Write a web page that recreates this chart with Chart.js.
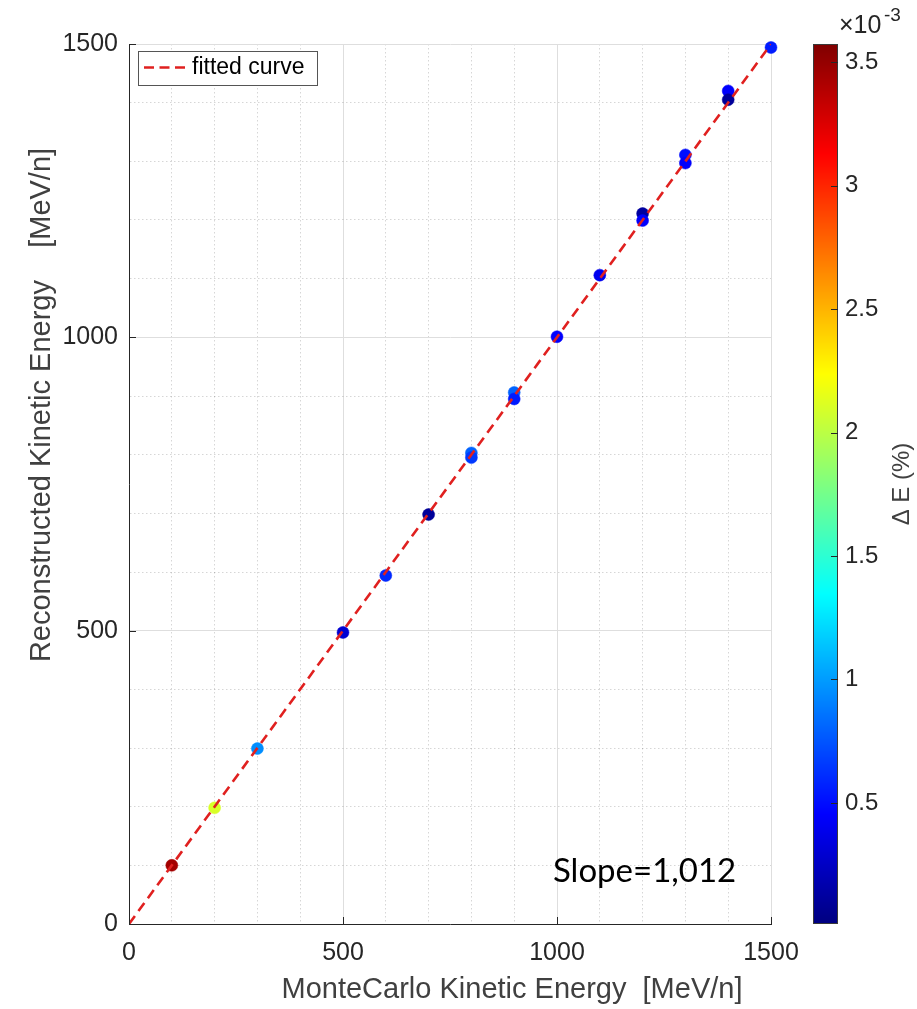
<!DOCTYPE html>
<html><head><meta charset="utf-8">
<script src="https://cdn.jsdelivr.net/npm/chart.js@4/dist/chart.umd.min.js"></script>
<style>html,body{margin:0;padding:0;background:#fff;overflow:hidden}#wrap{width:917px;height:1009px;position:relative}</style>
</head><body><div id="wrap"><canvas id="c" width="917" height="1009"></canvas></div>
<script>
// ---- data ----
const mcEnergy   = [100, 200, 300, 500, 600, 700, 800, 800, 900, 900, 1000, 1100, 1200, 1200, 1300, 1300, 1400, 1400, 1500];
const recoEnergy = [100, 198, 299, 497, 594, 698, 803, 795, 906, 895, 1001, 1106, 1211, 1199, 1311, 1297, 1420, 1405, 1494];
const deltaE     = [3.45, 2.1, 0.95, 0.3, 0.6, 0.1, 0.8, 0.65, 0.8, 0.55, 0.45, 0.4, 0.12, 0.45, 0.5, 0.45, 0.45, 0.1, 0.55]; // x 1e-3 %
const fitX = [0, 1500];
const fitY = [0, 1500];
const xTicks = [0, 500, 1000, 1500];
const yTicks = [0, 500, 1000, 1500];
const cbTicks = [0.5, 1, 1.5, 2, 2.5, 3, 3.5];
const cbMin = 0.01, cbMax = 3.573;
const legendLabel = 'fitted curve';
const slopeText = 'Slope=1,012';
const xTitle = 'MonteCarlo Kinetic Energy  [MeV/n]';
const yTitle = 'Reconstructed Kinetic Energy    [MeV/n]';
const cbTitle = '\u0394 E (%)';

const gridStep = 100;
function gridValues(max){ const a=[]; for(let v=0; v<=max; v+=gridStep) a.push(v); return a; }

function jet(v){
  let t = (v - cbMin) / (cbMax - cbMin); t = Math.max(0, Math.min(1, t));
  const c = x => Math.round(255 * Math.max(0, Math.min(1, x)));
  return 'rgb(' + c(1.5 - Math.abs(4*t - 3)) + ',' + c(1.5 - Math.abs(4*t - 2)) + ',' + c(1.5 - Math.abs(4*t - 1)) + ')';
}

const FONT = '"Liberation Sans", Arial, Helvetica, sans-serif';
const AXC = '#262626';
const isMajor = v => v % 500 === 0;

const gridOpts = {
  drawTicks: false,
  lineWidth: 1,
  color: ctx => (ctx.tick && isMajor(ctx.tick.value)) ? '#dedede' : 'rgba(0,0,0,0.16)'
};
const borderOpts = {
  display: true, color: AXC, width: 1,
  dash: ctx => (ctx.tick && !isMajor(ctx.tick.value)) ? [1.5, 2.5] : []
};

const deco = {
  id: 'deco',
  afterDraw(chart){
    const {ctx, chartArea: ca, scales} = chart;
    const xs = scales.x, ys = scales.y, cs = scales.cb;
    const line = (a,b,c,d) => { ctx.beginPath(); ctx.moveTo(a,b); ctx.lineTo(c,d); ctx.stroke(); };
    ctx.save();
    // inner major tick marks
    ctx.strokeStyle = AXC; ctx.lineWidth = 1; ctx.setLineDash([]);
    xTicks.forEach(v => { const p = Math.round(xs.getPixelForValue(v)) + 0.5; line(p, ca.bottom, p, ca.bottom - 7); });
    yTicks.forEach(v => { const p = Math.round(ys.getPixelForValue(v)) + 0.5; line(ca.left, p, ca.left + 7, p); });

    // colorbar
    const bx = ca.right + 42, bw = 25;
    for (let py = Math.floor(cs.top); py < Math.ceil(cs.bottom); py++){
      ctx.fillStyle = jet(cs.getValueForPixel(py + 0.5));
      ctx.fillRect(bx, py, bw, 1);
    }
    ctx.strokeStyle = '#3a3a3a';
    ctx.strokeRect(bx + 0.5, Math.floor(cs.top) + 0.5, bw - 1, Math.ceil(cs.bottom) - Math.floor(cs.top) - 1);
    ctx.strokeStyle = AXC;
    cbTicks.forEach(v => { const p = Math.round(cs.getPixelForValue(v)) + 0.5; line(bx + bw - 7, p, bx + bw, p); });

    // x10^-3
    ctx.fillStyle = AXC; ctx.textAlign = 'left'; ctx.textBaseline = 'alphabetic';
    ctx.font = '25px ' + FONT;
    ctx.fillText('\u00d710', ca.right + 68, 33);
    ctx.font = '19px ' + FONT;
    ctx.fillText('-3', ca.right + 113, 21);

    // colorbar title
    ctx.save();
    ctx.translate(ca.right + 138, 484);
    ctx.rotate(-Math.PI / 2);
    ctx.font = '24px ' + FONT; ctx.fillStyle = '#404040'; ctx.textAlign = 'center'; ctx.textBaseline = 'alphabetic';
    ctx.fillText(cbTitle, 0, 0);
    ctx.restore();

    // axis titles
    ctx.fillStyle = '#404040'; ctx.font = '29px ' + FONT; ctx.textAlign = 'center'; ctx.textBaseline = 'alphabetic';
    ctx.fillText(xTitle, ca.left + 383, 998);
    ctx.save();
    ctx.translate(50, 405);
    ctx.rotate(-Math.PI / 2);
    ctx.fillText(yTitle, 0, 0);
    ctx.restore();

    // legend
    const lx = ca.left + 9, ly = ca.top + 7, lw = 179, lh = 34;
    ctx.fillStyle = '#fff'; ctx.fillRect(lx, ly, lw, lh);
    ctx.strokeStyle = '#555'; ctx.lineWidth = 1; ctx.strokeRect(lx + 0.5, ly + 0.5, lw, lh);
    ctx.strokeStyle = '#e0201f'; ctx.lineWidth = 2.6; ctx.setLineDash([10, 5.5]);
    line(lx + 6, ly + 16.5, lx + 52, ly + 16.5);
    ctx.setLineDash([]);
    ctx.fillStyle = '#000'; ctx.font = '23px ' + FONT; ctx.textAlign = 'left'; ctx.textBaseline = 'middle';
    ctx.fillText(legendLabel, lx + 54, ly + 17);

    // slope annotation
    ctx.fillStyle = '#000'; ctx.font = '33px Lato, "Open Sans", sans-serif'; ctx.textAlign = 'left'; ctx.textBaseline = 'alphabetic';
    ctx.fillText(slopeText, ca.left + 424, 882);
    ctx.restore();
  }
};

new Chart(document.getElementById('c'), {
  data: {
    datasets: [
      {
        type: 'line', label: legendLabel, order: 0,
        data: fitX.map((x, i) => ({x: x, y: fitY[i]})),
        borderColor: '#e0201f', borderWidth: 2.6, borderDash: [10, 6],
        pointRadius: 0, fill: false, tension: 0
      },
      {
        type: 'scatter', label: 'data', order: 1, clip: false,
        data: mcEnergy.map((x, i) => ({x: x, y: recoEnergy[i]})),
        pointRadius: 6, pointHoverRadius: 6,
        pointBackgroundColor: deltaE.map(jet),
        pointBorderColor: deltaE.map(jet), pointBorderWidth: 0.5
      }
    ]
  },
  options: {
    responsive: false, animation: false, devicePixelRatio: 1,
    layout: { padding: { top: 44, left: 0, right: 0, bottom: 0 } },
    plugins: { legend: { display: false }, tooltip: { enabled: false } },
    scales: {
      x: {
        type: 'linear', position: 'bottom', min: 0, max: 1500,
        afterBuildTicks: s => { s.ticks = gridValues(1500).map(v => ({value: v})); },
        afterFit: s => { s.height = 85; s.paddingLeft = 0; s.paddingRight = 0; },
        ticks: { autoSkip: false, maxRotation: 0, padding: 14, color: AXC, font: { family: FONT, size: 25 },
                 callback: v => xTicks.includes(v) ? String(v) : '' },
        grid: gridOpts, border: borderOpts
      },
      y: {
        type: 'linear', position: 'left', min: 0, max: 1500,
        afterBuildTicks: s => { s.ticks = gridValues(1500).map(v => ({value: v})); },
        afterFit: s => { s.width = 129; s.paddingTop = 0; s.paddingBottom = 0; },
        ticks: { autoSkip: false, padding: 11, color: AXC, font: { family: FONT, size: 25 },
                 callback: v => yTicks.includes(v) ? String(v) : '' },
        grid: gridOpts, border: borderOpts
      },
      cb: {
        type: 'linear', position: 'right', min: cbMin, max: cbMax,
        afterBuildTicks: s => { s.ticks = cbTicks.map(v => ({value: v})); },
        afterFit: s => { s.width = 146; s.paddingTop = 0; s.paddingBottom = 0; },
        ticks: { autoSkip: false, padding: 74, color: AXC, font: { family: FONT, size: 24 },
                 callback: v => String(v) },
        grid: { display: false, drawTicks: false }, border: { display: false }
      }
    }
  },
  plugins: [deco]
});
</script>
</body></html>
